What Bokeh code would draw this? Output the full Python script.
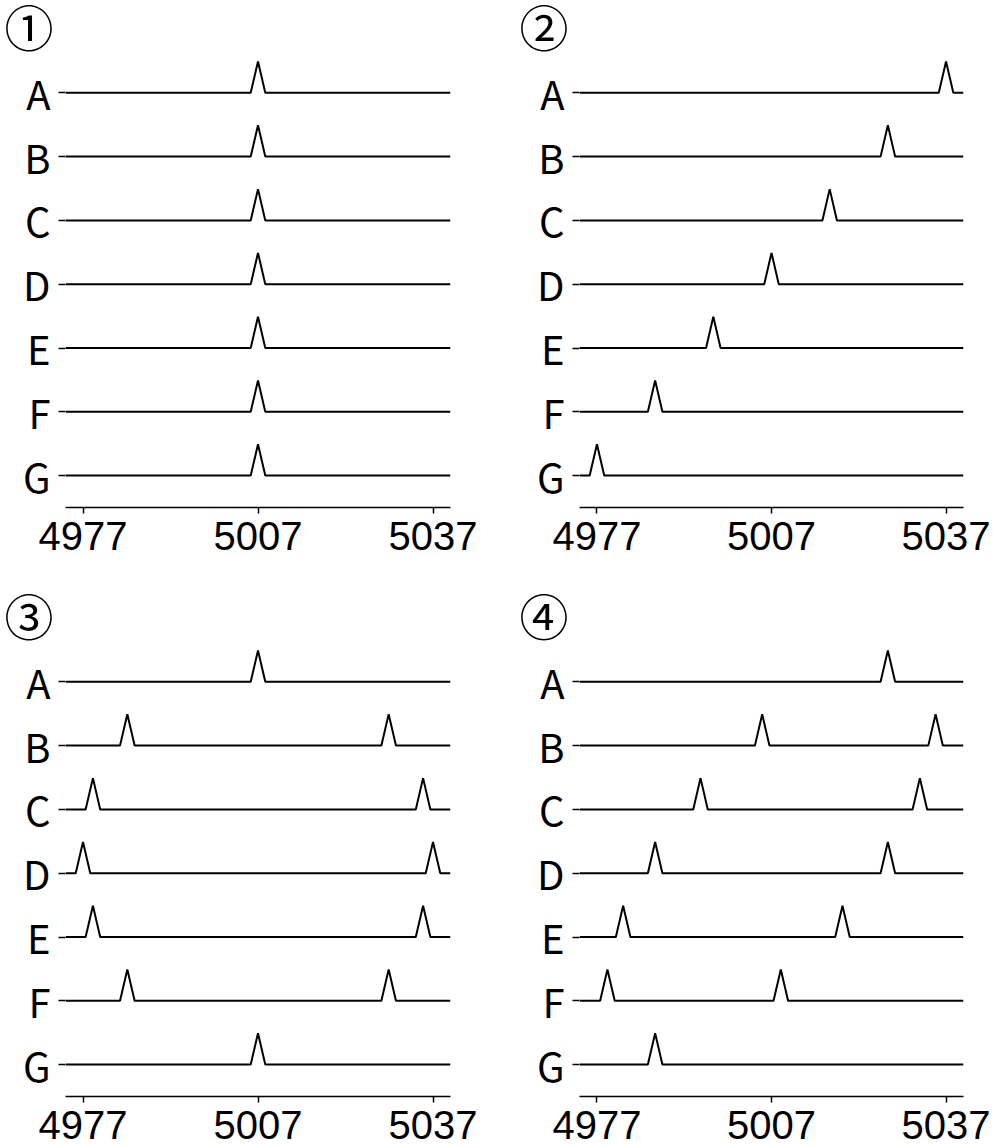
from bokeh.plotting import figure
from bokeh.layouts import column, row
from bokeh.models import Range1d, FixedTicker
from bokeh.embed import file_html
from bokeh.resources import INLINE

# ---- data ----
rows = ["A", "B", "C", "D", "E", "F", "G"]
x_start, x_end = 4974, 5040
x_ticks = [4977, 5007, 5037]
panel_titles = ["①", "②", "③", "④"]

peaks_1 = {"A": [5007], "B": [5007], "C": [5007], "D": [5007],
           "E": [5007], "F": [5007], "G": [5007]}
peaks_2 = {"A": [5037], "B": [5027], "C": [5017], "D": [5007],
           "E": [4997], "F": [4987], "G": [4977]}
peaks_3 = {"A": [5007], "B": [4984.6, 5029.4], "C": [4978.7, 5035.3],
           "D": [4977, 5037], "E": [4978.7, 5035.3], "F": [4984.6, 5029.4],
           "G": [5007]}
peaks_4 = {"A": [5027], "B": [5005.4, 5035.2], "C": [4994.8, 5032.5],
           "D": [4987, 5027], "E": [4981.5, 5019.2], "F": [4978.8, 5008.6],
           "G": [4987]}
peak_height = 0.49
peak_half_width = 1.25

TICK_FONT = "Liberation Sans"
LABEL_FONT = "Noto Sans CJK JP"
TITLE_FONT = "'Liberation Sans', 'Noto Sans CJK JP'"
Y_BOTTOM, Y_TOP = -0.5, 6.569


def make_panel(idx, peaks, width, height, border_left, border_right,
               border_top, border_bottom, title_offset):
    p = figure(width=width, height=height,
               x_range=Range1d(x_start, x_end), y_range=Range1d(Y_BOTTOM, Y_TOP),
               output_backend="svg", toolbar_location=None,
               min_border_left=border_left, min_border_right=border_right,
               min_border_top=border_top, min_border_bottom=border_bottom)
    n = len(rows)
    for i, r in enumerate(rows):
        y0 = n - 1 - i
        xs = [x_start]
        ys = [y0]
        for c in peaks[r]:
            xs += [c - peak_half_width, c, c + peak_half_width]
            ys += [y0, y0 + peak_height, y0]
        xs.append(x_end)
        ys.append(y0)
        p.line(xs, ys, line_color="black", line_width=2)

    p.title.text = panel_titles[idx]
    p.title.text_font = TITLE_FONT
    p.title.text_font_size = "49px"
    p.title.text_font_style = "normal"
    p.title.text_color = "black"
    p.title.align = "left"
    p.title.offset = title_offset
    p.title.standoff = 0

    p.xaxis.ticker = FixedTicker(ticks=x_ticks)
    p.xaxis.major_label_text_font = TICK_FONT
    p.xaxis.major_label_text_font_size = "40px"
    p.xaxis.major_label_text_color = "black"
    p.xaxis.axis_line_color = "black"
    p.xaxis.axis_line_width = 1.5
    p.xaxis.major_tick_line_color = "black"
    p.xaxis.major_tick_line_width = 1.5
    p.xaxis.major_tick_out = 6
    p.xaxis.major_tick_in = 0
    p.xaxis.minor_tick_line_color = None
    p.xaxis.major_label_standoff = 8

    p.yaxis.ticker = FixedTicker(ticks=list(range(n)))
    p.yaxis.major_label_overrides = {n - 1 - i: r for i, r in enumerate(rows)}
    p.yaxis.major_label_text_font = LABEL_FONT
    p.yaxis.major_label_text_font_size = "40px"
    p.yaxis.major_label_text_color = "black"
    p.yaxis.axis_line_color = None
    p.yaxis.major_tick_line_color = "black"
    p.yaxis.major_tick_line_width = 1.5
    p.yaxis.major_tick_out = 7
    p.yaxis.major_tick_in = 0
    p.yaxis.minor_tick_line_color = None
    p.yaxis.major_label_standoff = 8

    p.xgrid.visible = False
    p.ygrid.visible = False
    p.outline_line_color = None
    p.background_fill_color = "white"
    p.border_fill_color = "white"
    return p


p1 = make_panel(0, peaks_1, 505, 589, 65, 55, 56, 82, -61)
p2 = make_panel(1, peaks_2, 490, 589, 74, 32, 56, 82, -60)
p3 = make_panel(2, peaks_3, 505, 558, 65, 55, 56, 51, -61)
p4 = make_panel(3, peaks_4, 490, 558, 74, 32, 56, 51, -60)

layout = column(row(p1, p2), row(p3, p4))
open("out.html", "w").write(file_html(layout, INLINE))
